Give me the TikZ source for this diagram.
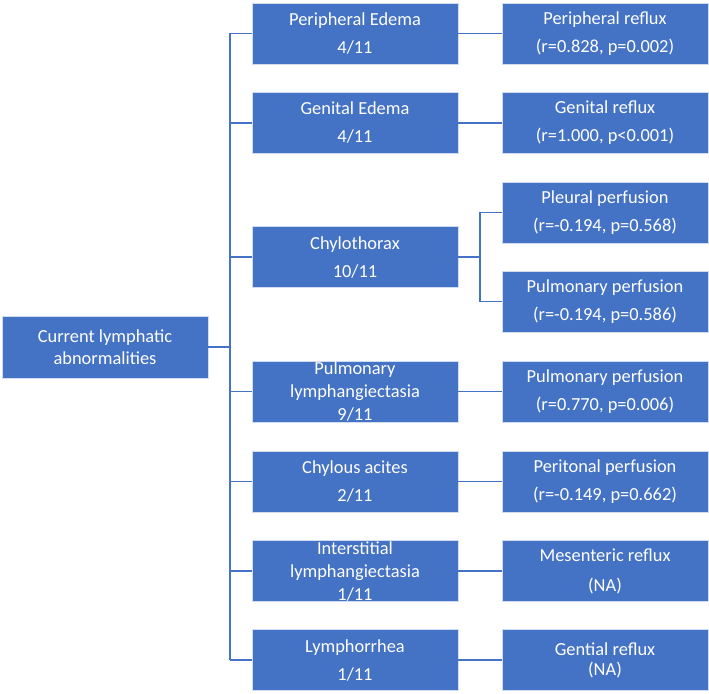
\documentclass[tikz,border=0pt]{standalone}
\usepackage{fontspec}
\setmainfont{Carlito}
\definecolor{boxblue}{HTML}{4472C4}
\definecolor{lineblue}{HTML}{4472C4}
\begin{document}
\begin{tikzpicture}[x=1pt,y=-1pt,
  box/.style={draw=white!75!boxblue, line width=0.6pt, fill=boxblue, text=white,
    minimum width=206pt, minimum height=61pt, align=center, inner sep=0pt,
    font=\fontsize{18.4}{28}\selectfont},
  three/.style={font=\fontsize{18.4}{23}\selectfont},
  conn/.style={draw=lineblue, line width=1.8pt}]
\useasboundingbox (0,0) rectangle (709,693);
% root
\node[box, minimum height=62pt, font=\fontsize{18.4}{22}\selectfont] (root) at (105,347) {Current lymphatic\\abnormalities};
% middle column
\node[box] (m1) at (355,33.5) {Peripheral Edema\\4/11};
\node[box] (m2) at (355,123) {Genital Edema\\4/11};
\node[box] (m3) at (355,257) {Chylothorax\\10/11};
\node[box, three] (m4) at (355,391.5) {Pulmonary\\lymphangiectasia\\9/11};
\node[box] (m5) at (355,481.5) {Chylous acites\\2/11};
\node[box, three] (m6) at (355,571) {Interstitial\\lymphangiectasia\\1/11};
\node[box] (m7) at (355,660) {Lymphorrhea\\1/11};
% right column
\node[box] (r1) at (605,33.5) {Peripheral reflux\\(r=0.828, p=0.002)};
\node[box] (r2) at (605,123) {Genital reflux\\(r=1.000, p<0.001)};
\node[box] (r3) at (605,212.5) {Pleural perfusion\\(r=-0.194, p=0.568)};
\node[box] (r4) at (605,301.5) {Pulmonary perfusion\\(r=-0.194, p=0.586)};
\node[box] (r5) at (605,391.5) {Pulmonary perfusion\\(r=0.770, p=0.006)};
\node[box] (r6) at (605,481.5) {Peritonal perfusion\\(r=-0.149, p=0.662)};
\node[box, font=\fontsize{18.4}{30}\selectfont] (r7) at (605,571) {Mesenteric reflux\\(NA)};
\node[box, font=\fontsize{18.4}{20}\selectfont] (r8) at (605,660) {Gential reflux\\(NA)};
% trunk
\coordinate (tk) at (230,347);
\draw[conn] (root.east) -- (tk);
\draw[conn] (m1.west -| tk) -- (m7.west -| tk);
\foreach \m in {m1,m2,m3,m4,m5,m6,m7} {\draw[conn] (\m.west -| tk) -- (\m.west);}
% middle to right
\draw[conn] (m1.east) -- (r1.west);
\draw[conn] (m2.east) -- (r2.west);
\draw[conn] (m4.east) -- (r5.west);
\draw[conn] (m5.east) -- (r6.west);
\draw[conn] (m6.east) -- (r7.west);
\draw[conn] (m7.east) -- (r8.west);
% chylothorax bracket
\coordinate (br) at (480,257);
\draw[conn] (m3.east) -- (br);
\draw[conn] (r3.west) -- (r3.west -| br) -- (r4.west -| br) -- (r4.west);
\end{tikzpicture}
\end{document}
